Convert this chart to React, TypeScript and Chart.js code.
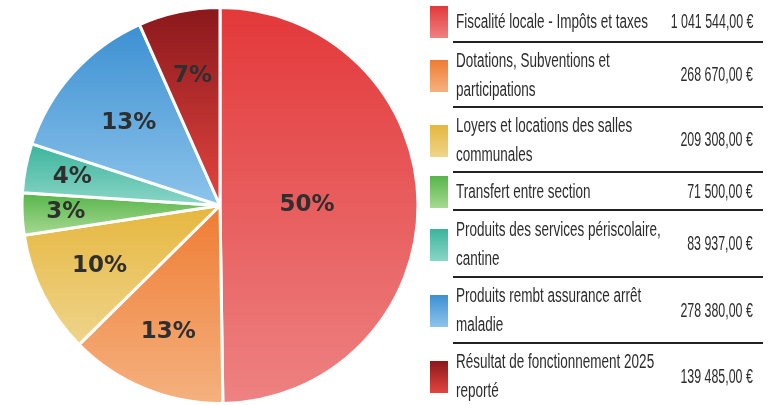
import React, { useEffect, useRef } from "react";
import { Chart, registerables } from "chart.js";

Chart.register(...registerables);

// ---- data ----
const categories: string[][] = [
  ["Fiscalité locale - Impôts et taxes"],
  ["Dotations, Subventions et", "participations"],
  ["Loyers et locations des salles", "communales"],
  ["Transfert entre section"],
  ["Produits des services périscolaire,", "cantine"],
  ["Produits rembt assurance arrêt", "maladie"],
  ["Résultat de fonctionnement 2025", "reporté"],
];
const amounts = [1041544, 268670, 209308, 71500, 83937, 278380, 139485];

// ---- styles ----
const topColors = ["#E3383A", "#EF7C33", "#E6B73F", "#56B54A", "#3BB59C", "#3C90D2", "#8A181C"];
const bottomColors = ["#EE8282", "#F5B17F", "#EED48B", "#A7D992", "#8BD5C7", "#8DC4EB", "#E3453F"];
const labelRadius = [0.44, 0.69, 0.68, 0.78, 0.76, 0.62, 0.67];
const rowHeights = [42, 65, 65, 38, 67, 66, 66];

function formatEuro(v: number): string {
  const s = String(Math.floor(v));
  const parts: string[] = [];
  for (let i = s.length; i > 0; i -= 3) parts.unshift(s.slice(Math.max(0, i - 3), i));
  return parts.join(" ") + ",00 €";
}

const gradientPlugin = {
  id: "sliceGradient",
  beforeDatasetsDraw(chart: any) {
    const meta = chart.getDatasetMeta(0);
    const ctx = chart.ctx as CanvasRenderingContext2D;
    meta.data.forEach((arc: any, i: number) => {
      const { y, startAngle, endAngle, outerRadius } = arc.getProps(
        ["x", "y", "startAngle", "endAngle", "outerRadius"],
        true
      );
      const ys = [y, y + outerRadius * Math.sin(startAngle), y + outerRadius * Math.sin(endAngle)];
      for (let k = -4; k <= 4; k++) {
        const a = Math.PI / 2 + k * Math.PI;
        if (a > startAngle && a < endAngle) ys.push(y + outerRadius * Math.sin(a));
      }
      const y0 = Math.min(...ys);
      const y1 = Math.max(...ys);
      const g = ctx.createLinearGradient(0, y0, 0, y1 + 0.001);
      g.addColorStop(0, topColors[i]);
      g.addColorStop(1, bottomColors[i]);
      arc.options = Object.assign({}, arc.options, { backgroundColor: g });
    });
  },
};

const labelPlugin = {
  id: "sliceLabels",
  afterDatasetsDraw(chart: any) {
    const meta = chart.getDatasetMeta(0);
    const ctx = chart.ctx as CanvasRenderingContext2D;
    const data = chart.data.datasets[0].data as number[];
    const total = data.reduce((a, b) => a + b, 0);
    ctx.save();
    ctx.font = "bold 23px 'DejaVu Sans'";
    ctx.fillStyle = "#2f2f2f";
    ctx.textAlign = "center";
    ctx.textBaseline = "middle";
    meta.data.forEach((arc: any, i: number) => {
      const { x, y, startAngle, endAngle, outerRadius } = arc.getProps(
        ["x", "y", "startAngle", "endAngle", "outerRadius"],
        true
      );
      const mid = (startAngle + endAngle) / 2;
      const r = outerRadius * labelRadius[i];
      const txt = Math.round((data[i] / total) * 100) + "%";
      ctx.fillText(txt, x + r * Math.cos(mid), y + r * Math.sin(mid));
    });
    ctx.restore();
  },
};

export default function App() {
  const canvasRef = useRef<HTMLCanvasElement | null>(null);

  useEffect(() => {
    if (!canvasRef.current) return;
    const chart = new Chart(canvasRef.current, {
      type: "pie",
      data: {
        labels: categories.map((c) => c.join(" ")),
        datasets: [
          {
            data: amounts,
            backgroundColor: topColors,
            borderColor: "#ffffff",
            borderWidth: 3,
          },
        ],
      },
      options: {
        responsive: false,
        animation: false,
        devicePixelRatio: 1,
        layout: { padding: { top: 6, bottom: 0, left: 20, right: 20 } },
        plugins: {
          legend: { display: false },
          tooltip: { enabled: false },
        },
      },
      plugins: [gradientPlugin, labelPlugin],
    });
    return () => chart.destroy();
  }, []);

  const tops: number[] = [];
  let acc = 0;
  rowHeights.forEach((h) => {
    tops.push(acc);
    acc += h;
  });

  const textFont = "20px 'Liberation Sans', Arial, sans-serif";

  return (
    <div
      style={{
        position: "absolute",
        left: 0,
        top: 0,
        width: 768,
        height: 405,
        overflow: "hidden",
        background: "#ffffff",
      }}
    >
      <canvas
        ref={canvasRef}
        width={440}
        height={405}
        style={{ position: "absolute", left: 0, top: 0, width: 440, height: 405 }}
      />
      {categories.map((lines, i) => {
        const top = tops[i];
        const h = rowHeights[i];
        return (
          <React.Fragment key={i}>
            <div
              style={{
                position: "absolute",
                left: 430,
                top: top + (h - 32) / 2 + 1,
                width: 18,
                height: 32,
                background: `linear-gradient(to bottom, ${topColors[i]}, ${bottomColors[i]})`,
              }}
            />
            <div
              style={{
                position: "absolute",
                left: 456,
                top,
                height: h,
                display: "flex",
                flexDirection: "column",
                justifyContent: "center",
                font: textFont,
                lineHeight: "29px",
                color: "#2c2c2c",
                whiteSpace: "nowrap",
                transform: "scaleX(0.675)",
                transformOrigin: "left center",
              }}
            >
              {lines.map((l, j) => (
                <div key={j}>{l}</div>
              ))}
            </div>
            <div
              style={{
                position: "absolute",
                right: 15,
                top,
                height: h,
                display: "flex",
                alignItems: "center",
                font: textFont,
                color: "#2c2c2c",
                whiteSpace: "nowrap",
                transform: "scaleX(0.62)",
                transformOrigin: "right center",
              }}
            >
              {formatEuro(amounts[i])}
            </div>
            {i < categories.length - 1 && (
              <div
                style={{
                  position: "absolute",
                  left: 453,
                  top: top + h - 1,
                  width: 310,
                  height: 2,
                  background: "#222222",
                }}
              />
            )}
          </React.Fragment>
        );
      })}
    </div>
  );
}
